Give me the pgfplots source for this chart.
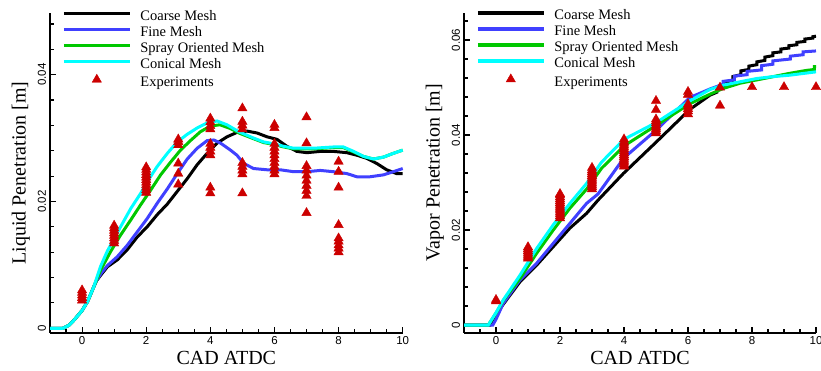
\documentclass[border=0pt]{standalone}
\usepackage{pgfplots}
\pgfplotsset{compat=1.18}
\usepackage{fontspec}
\setmainfont{Liberation Serif}
\newfontfamily\arialfont{Liberation Sans}
\definecolor{cBlue}{RGB}{64,64,255}
\definecolor{cGreen}{RGB}{0,200,0}
\definecolor{cCyan}{RGB}{0,255,255}
\definecolor{cRed}{RGB}{204,0,0}
\pgfplotsset{
  myaxis/.style={
    scale only axis, clip=false,
    scaled y ticks=false, scaled x ticks=false,
    axis x line*=bottom, axis y line*=left,
    axis line style={line width=1.3pt},
    xmin=-1, xmax=10,
    xtick={0,2,4,6,8,10}, xticklabels={0,2,4,6,8,10},
    minor xtick={-0.5,0.5,1,1.5,2.5,3,3.5,4.5,5,5.5,6.5,7,7.5,8.5,9,9.5},
    tick align=inside,
    major tick length=6pt, minor tick length=3.5pt,
    every tick/.style={black, line width=1.1pt},
    xticklabel style={font=\arialfont\fontsize{11.5}{12}\selectfont, inner sep=0pt, outer sep=3.5pt, anchor=north},
    yticklabel style={font=\arialfont\fontsize{11.5}{12}\selectfont, rotate=90, inner sep=0pt, outer sep=4pt, anchor=south},
    xlabel={CAD ATDC},
    xlabel style={font=\fontsize{20}{22}\selectfont, at={([yshift=-18pt]axis description cs:0.5,0)}, anchor=north, inner sep=0pt},
    ylabel style={font=\fontsize{20}{22}\selectfont, at={([xshift=-20pt]axis description cs:0,0.5)}, anchor=south, inner sep=0pt},
    legend cell align=left,
    legend style={draw=none, fill=none, at={(rel axis cs:0,1)}, anchor=north west, xshift=12pt, yshift=3pt,
      font=\fontsize{14.5}{16}\selectfont, row sep=2.6pt, column sep=9pt, inner sep=0pt,
      nodes={inner sep=0pt, text height=10pt, text depth=3.4pt}},
    legend image code/.code={\draw[#1, line width=3.2pt] (0pt,3.6pt) -- (66pt,3.6pt);},
  },
  expstyle/.style={only marks, mark=triangle*, mark size=5.4pt, color=cRed,
     legend image code/.code={\draw[#1] plot coordinates {(33pt,3.6pt)};}},
  lw/.style={line width=3pt},
}
\begin{document}
\begin{tikzpicture}
\useasboundingbox (0,0) rectangle (821pt,371pt);
% ---------------- Left: liquid penetration
\begin{axis}[myaxis, at={(50pt,38pt)}, anchor=south west, width=352.7pt, height=320pt,
  ymin=-0.00074, ymax=0.04973,
  ytick={0,0.02,0.04}, yticklabels={0,0.02,0.04},
  minor ytick={0.004,0.008,0.012,0.016,0.024,0.028,0.032,0.036,0.044,0.048},
  ylabel={Liquid Penetration [m]}]
\addplot[black, lw] coordinates {(-1,0)(-0.6,0)(-0.4,0.0005)(-0.25,0.0013)(0,0.0028)(0.17,0.0042)(0.37,0.0066)(0.45,0.0075)(0.6,0.0085)(0.79,0.0097)(1.1,0.0108)(1.41,0.0124)(1.72,0.0144)(2.03,0.0160)(2.34,0.0179)(2.66,0.0196)(2.97,0.0216)(3.28,0.0236)(3.59,0.0258)(3.9,0.0276)(4.21,0.0292)(4.52,0.0302)(4.83,0.0309)(5.15,0.0311)(5.46,0.0308)(5.77,0.0302)(6.08,0.0298)(6.39,0.0287)(6.7,0.0279)(7.01,0.0277)(7.43,0.0279)(7.84,0.0279)(8.26,0.0277)(8.57,0.0273)(8.88,0.0268)(9.19,0.0260)(9.5,0.0250)(9.81,0.0244)(10,0.0244)};
\addlegendentry{Coarse Mesh}
\addplot[cBlue, lw] coordinates {(-1,0)(-0.6,0)(-0.4,0.0005)(-0.25,0.0013)(0,0.0028)(0.17,0.0042)(0.37,0.0066)(0.45,0.0075)(0.6,0.0087)(0.79,0.0099)(1.1,0.0113)(1.41,0.0131)(1.72,0.0152)(2.03,0.0173)(2.34,0.0197)(2.66,0.0220)(2.97,0.0244)(3.28,0.0267)(3.59,0.0284)(3.9,0.0296)(4.11,0.0297)(4.32,0.0292)(4.63,0.0281)(4.83,0.0273)(5.04,0.0260)(5.35,0.0252)(5.77,0.0250)(6.18,0.0250)(6.6,0.0247)(7.01,0.0247)(7.43,0.0249)(7.84,0.0247)(8.26,0.0244)(8.57,0.0239)(8.98,0.0239)(9.4,0.0242)(9.71,0.0247)(10,0.0252)};
\addlegendentry{Fine Mesh}
\addplot[cGreen, lw] coordinates {(-1,0)(-0.6,0)(-0.4,0.0005)(-0.25,0.0013)(0,0.0028)(0.17,0.0042)(0.37,0.0066)(0.58,0.0092)(0.89,0.0121)(1.2,0.0147)(1.52,0.0171)(1.83,0.0195)(2.14,0.0218)(2.45,0.0242)(2.76,0.0262)(3.07,0.0281)(3.38,0.0296)(3.69,0.0310)(4.0,0.0319)(4.3,0.0321)(4.63,0.0315)(4.89,0.0308)(5.35,0.0299)(5.66,0.0293)(5.98,0.0290)(6.29,0.0286)(6.6,0.0283)(6.91,0.0283)(7.22,0.0283)(7.53,0.0284)(7.84,0.0285)(8.15,0.0285)(8.47,0.0278)(8.78,0.0271)(9.09,0.0267)(9.4,0.0270)(9.71,0.0276)(10,0.0281)};
\addlegendentry{Spray Oriented Mesh}
\addplot[cCyan, lw] coordinates {(-1,0)(-0.6,0)(-0.4,0.0005)(-0.25,0.0013)(0,0.0028)(0.17,0.0042)(0.37,0.0066)(0.58,0.0098)(0.79,0.0122)(1.2,0.0160)(1.52,0.0189)(1.83,0.0213)(2.03,0.0231)(2.34,0.0255)(2.66,0.0276)(2.97,0.0294)(3.28,0.0306)(3.59,0.0316)(3.9,0.0324)(4.21,0.0327)(4.52,0.0321)(4.89,0.0310)(5.35,0.0300)(5.66,0.0294)(5.98,0.0291)(6.29,0.0287)(6.6,0.0284)(6.91,0.0284)(7.22,0.0284)(7.53,0.0285)(7.84,0.0286)(8.15,0.0286)(8.47,0.0279)(8.78,0.0271)(9.09,0.0267)(9.4,0.0270)(9.71,0.0276)(10,0.0281)};
\addlegendentry{Conical Mesh}
\addplot[expstyle] coordinates {
(0,0.0044)(0,0.0048)(0,0.0052)(0,0.0056)(0,0.0060)
(1,0.0134)(1,0.0138)(1,0.0142)(1,0.0146)(1,0.0150)(1,0.0154)(1,0.0158)(1,0.0162)
(2,0.0214)(2,0.0218)(2,0.0222)(2,0.0226)(2,0.0230)(2,0.0234)(2,0.0238)(2,0.0242)(2,0.0246)(2,0.0250)(2,0.0254)
(3,0.0298)(3,0.0294)(3,0.0289)(3,0.0260)(3,0.0244)(3,0.0227)
(4,0.0331)(4,0.0325)(4,0.0319)(4,0.0314)(4,0.0291)(4,0.0285)(4,0.0279)(4,0.0273)(4,0.0222)(4,0.0213)
(5,0.0347)(5,0.0326)(5,0.0320)(5,0.0314)(5,0.0261)(5,0.0255)(5,0.0249)(5,0.0243)(5,0.0213)
(6,0.0321)(6,0.0316)(6,0.0291)(6,0.0285)(6,0.0279)(6,0.0273)(6,0.0267)(6,0.0261)(6,0.0255)(6,0.0249)(6,0.0243)
(7,0.0333)(7,0.0292)(7,0.0256)(7,0.0249)(7,0.0241)(7,0.0233)(7,0.0225)(7,0.0217)(7,0.0209)(7,0.0182)
(8,0.0263)(8,0.0247)(8,0.0222)(8,0.0163)(8,0.0142)(8,0.0137)(8,0.0131)(8,0.0126)(8,0.0120)};
\addlegendentry{Experiments}
\end{axis}
% ---------------- Right: vapor penetration
\begin{axis}[myaxis, at={(464pt,38pt)}, anchor=south west, width=352pt, height=320.3pt,
  ymin=-0.00168, ymax=0.06575,
  ytick={0,0.02,0.04,0.06}, yticklabels={0,0.02,0.04,0.06},
  minor ytick={0.004,0.008,0.012,0.016,0.024,0.028,0.032,0.036,0.044,0.048,0.052,0.056,0.064},
  ylabel={Vapor Penetration [m]}]
\addplot[black, lw] coordinates {(-1,0)(-0.18,0)(0,0.0022)(0.23,0.0044)(0.75,0.0091)(1.27,0.0126)(1.79,0.0165)(2.31,0.0204)(2.83,0.0235)(3.19,0.0263)(3.98,0.0319)(5.02,0.0386)(6.06,0.0454)(6.69,0.0484)
(6.9,0.0490)(6.9,0.0498)(7.15,0.0503)(7.15,0.0511)(7.4,0.0515)(7.4,0.0523)(7.65,0.0527)(7.65,0.0535)(7.9,0.0538)(7.9,0.0545)(8.15,0.0548)(8.15,0.0554)(8.4,0.0557)(8.4,0.0564)(8.65,0.0567)(8.65,0.0573)(8.9,0.0575)(8.9,0.0581)(9.15,0.0583)(9.15,0.0588)(9.4,0.0590)(9.4,0.0595)(9.65,0.0597)(9.65,0.0602)(9.9,0.0604)(9.9,0.0607)(10,0.0608)};
\addlegendentry{Coarse Mesh}
\addplot[cBlue, lw] coordinates {(-1,0)(-0.1,0)(0,0.0012)(0.23,0.0046)(0.75,0.0095)(1.27,0.0130)(1.79,0.0172)(2.31,0.0214)(2.83,0.0256)(3.19,0.0276)(4.0,0.0352)(5.0,0.0410)(6.06,0.0479)(6.69,0.0497)
(7.1,0.0507)(7.1,0.0513)(7.45,0.0516)(7.45,0.0524)(7.85,0.0527)(7.85,0.0534)(8.3,0.0537)(8.3,0.0546)(8.65,0.0549)(8.65,0.0556)(9.2,0.0560)(9.2,0.0566)(9.6,0.0569)(9.6,0.0575)(10,0.0577)};
\addlegendentry{Fine Mesh}
\addplot[cGreen, lw] coordinates {(-1,0)(-0.24,0)(0,0.0025)(0.23,0.0052)(0.75,0.0098)(1.27,0.0151)(1.79,0.0200)(2.31,0.0246)(2.83,0.0286)(3.3,0.0330)(4.0,0.0377)(5.0,0.0420)(6.06,0.0466)(6.69,0.0486)(7.1,0.0498)(7.625,0.0509)(8.15,0.0516)(8.67,0.0523)(9.19,0.0530)(9.7,0.0536)(9.95,0.0538)(9.95,0.0544)(10,0.0544)};
\addlegendentry{Spray Oriented Mesh}
\addplot[cCyan, lw] coordinates {(-1,0)(-0.24,0)(0,0.0026)(0.23,0.0053)(0.75,0.0105)(1.27,0.0161)(1.79,0.0211)(2.31,0.0256)(2.83,0.0298)(3.3,0.0343)(4.0,0.0391)(5.0,0.0426)(6.06,0.0472)(6.69,0.0496)(7.1,0.0505)(7.625,0.0512)(8.15,0.0519)(8.67,0.0523)(9.19,0.0526)(10,0.0533)};
\addlegendentry{Conical Mesh}
\addplot[expstyle] coordinates {
(0,0.0050)(0,0.0053)
(1,0.0140)(1,0.0144)(1,0.0148)(1,0.0152)(1,0.0156)(1,0.0160)(1,0.0164)
(2,0.0225)(2,0.0229)(2,0.0233)(2,0.0237)(2,0.0241)(2,0.0245)(2,0.0249)(2,0.0253)(2,0.0257)(2,0.0261)(2,0.0265)(2,0.0269)(2,0.0273)(2,0.0276)
(3,0.0286)(3,0.0290)(3,0.0294)(3,0.0298)(3,0.0302)(3,0.0306)(3,0.0310)(3,0.0314)(3,0.0318)(3,0.0322)(3,0.0326)(3,0.0331)
(4,0.0334)(4,0.0338)(4,0.0342)(4,0.0346)(4,0.0350)(4,0.0354)(4,0.0358)(4,0.0362)(4,0.0366)(4,0.0370)(4,0.0374)(4,0.0378)(4,0.0382)(4,0.0386)(4,0.0391)
(5,0.0472)(5,0.0453)(5,0.0433)(5,0.0429)(5,0.0425)(5,0.0420)(5,0.0416)(5,0.0412)(5,0.0408)(5,0.0404)
(6,0.0491)(6,0.0485)(6,0.0465)(6,0.0460)(6,0.0455)(6,0.0450)(6,0.0444)
(7,0.0500)(7,0.0462)
(8,0.0501)(9,0.0501)(10,0.0501)};
\addlegendentry{Experiments}
\end{axis}
\end{tikzpicture}
\end{document}
